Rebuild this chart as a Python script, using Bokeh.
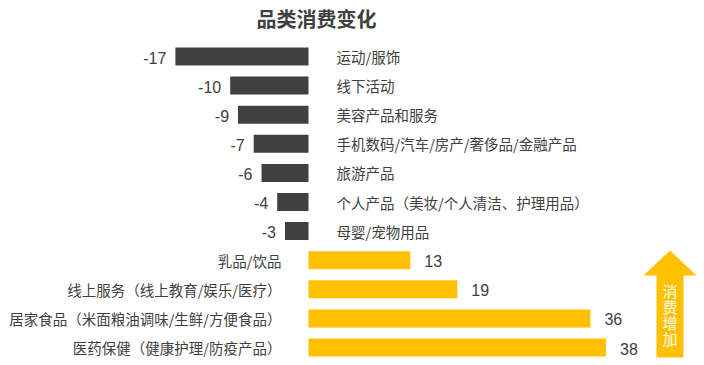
from bokeh.plotting import figure
from bokeh.models import Range1d, ColumnDataSource
from bokeh.core.properties import value
from bokeh.embed import file_html
from bokeh.resources import INLINE

# Category consumption change (percentage points)
neg_categories = ["运动/服饰", "线下活动", "美容产品和服务",
                  "手机数码/汽车/房产/奢侈品/金融产品", "旅游产品",
                  "个人产品（美妆/个人清洁、护理用品）", "母婴/宠物用品"]
neg_values = [-17, -10, -9, -7, -6, -4, -3]
pos_categories = ["乳品/饮品", "线上服务（线上教育/娱乐/医疗）",
                  "居家食品（米面粮油调味/生鲜/方便食品）",
                  "医药保健（健康护理/防疫产品）"]
pos_values = [13, 19, 36, 38]
title_text = "品类消费变化"
arrow_text = "消费增加"

W, H = 704, 365
ZERO_PX = 308.0      # horizontal position of the zero line
UNIT_PX = 7.83       # pixels per unit
ROW0_PX = 56.0       # centre of first row
ROW_PX = 29.1        # row pitch

DARK = "#404040"
YELLOW = "#FFC000"
TEXT = "#404040"


def xd(px):
    return (px - ZERO_PX) / UNIT_PX


def yd(py):
    return (py - ROW0_PX) / ROW_PX


p = figure(width=W, height=H, output_backend="svg", toolbar_location=None,
           x_range=Range1d(xd(0), xd(W)), y_range=Range1d(yd(H), yd(0)),
           min_border=0, outline_line_color=None)
p.axis.visible = False
p.grid.visible = False
p.background_fill_color = "white"

neg = ColumnDataSource(dict(y=list(range(len(neg_values))), v=neg_values,
                            cat=neg_categories, lab=[str(v) for v in neg_values]))
n0 = len(neg_values)
pos = ColumnDataSource(dict(y=[n0 + i for i in range(len(pos_values))], v=pos_values,
                            cat=pos_categories, lab=[str(v) for v in pos_values]))

p.hbar(y="y", left="v", right=0, height=0.62, source=neg, fill_color=DARK, line_color=None)
p.hbar(y="y", left=0, right="v", height=0.62, source=pos, fill_color=YELLOW, line_color=None)

cjk = value("Noto Sans CJK SC")
num = value("Liberation Sans")

# category names on the opposite side of the zero line
p.text(x=0, y="y", text="cat", source=neg, x_offset=28, text_align="left",
       text_baseline="middle", text_font=cjk, text_font_size="14.5px", text_color=TEXT)
p.text(x=0, y="y", text="cat", source=pos, x_offset=-27, text_align="right",
       text_baseline="middle", text_font=cjk, text_font_size="14.5px", text_color=TEXT)

# value labels at the bar ends
p.text(x="v", y="y", text="lab", source=neg, x_offset=-9, y_offset=1, text_align="right",
       text_baseline="middle", text_font=num, text_font_size="16px", text_color=TEXT)
p.text(x="v", y="y", text="lab", source=pos, x_offset=14, y_offset=1, text_align="left",
       text_baseline="middle", text_font=num, text_font_size="16px", text_color=TEXT)

# title
p.text(x=[xd(316)], y=[yd(18)], text=[title_text], text_align="center",
       text_baseline="middle", text_font=cjk, text_font_style="bold",
       text_font_size="20px", text_color=TEXT)

# upward arrow with vertical caption
ax = [669.5, 696, 683, 683, 656, 656, 643]
ay = [250, 275, 275, 357, 357, 275, 275]
p.patch(x=[xd(v) for v in ax], y=[yd(v) for v in ay], fill_color=YELLOW, line_color=None)
chars = list(arrow_text)
p.text(x=[xd(669.5)] * len(chars), y=[yd(290 + 16 * i) for i in range(len(chars))],
       text=chars, text_align="center", text_baseline="middle", text_font=cjk,
       text_font_size="15px", text_color="white")

open("out.html", "w").write(file_html(p, INLINE))
